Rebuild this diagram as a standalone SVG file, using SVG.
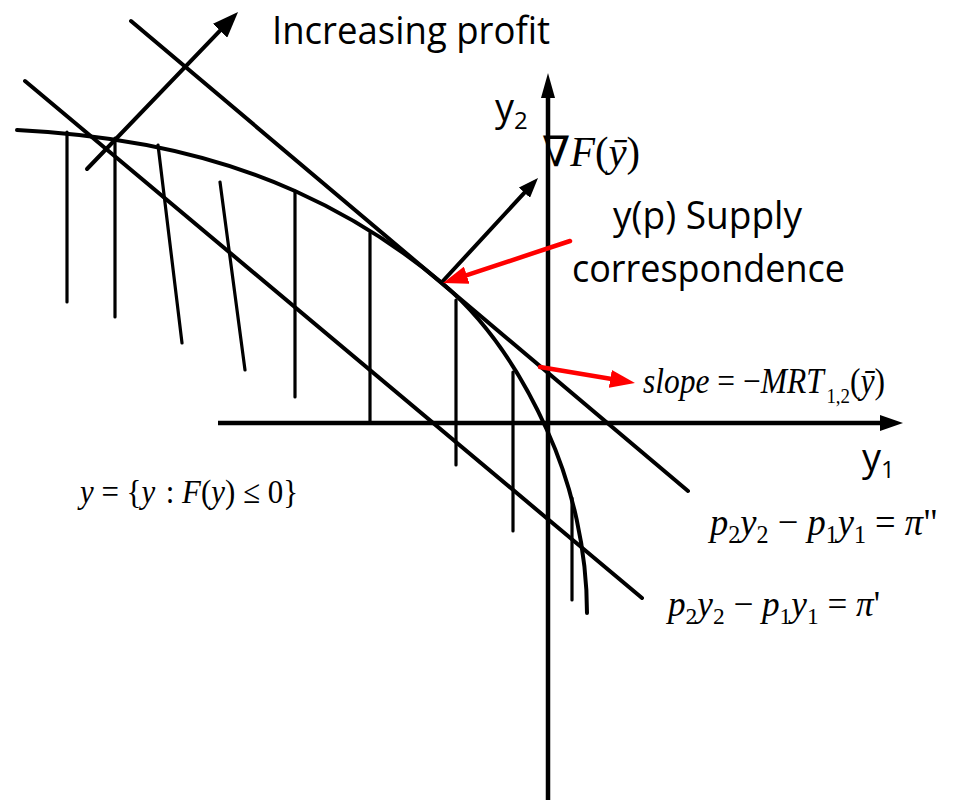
<svg xmlns="http://www.w3.org/2000/svg" width="955" height="800" viewBox="0 0 955 800">
<style>
.ln{stroke:#000;stroke-width:4;fill:none;stroke-linecap:round}
.ax{stroke:#000;stroke-width:4.5;fill:none}
.h{stroke:#000;stroke-width:3.2;fill:none;stroke-linecap:round}
.red{stroke:#ff0000;stroke-width:4.5;fill:none;stroke-linecap:round}
.sans{font-family:"Open Sans","Liberation Sans",sans-serif;fill:#000}
.math{font-family:"Liberation Serif","DejaVu Serif",serif;fill:#000}
.it{font-style:italic}
</style>
<defs>
<marker id="ab" markerUnits="userSpaceOnUse" markerWidth="26" markerHeight="20" refX="16" refY="10" orient="auto"><path d="M0,0 L26,10 L0,20 z" fill="#000"/></marker>
<marker id="ab2" markerUnits="userSpaceOnUse" markerWidth="20" markerHeight="15" refX="12" refY="7.5" orient="auto"><path d="M0,0 L20,7.5 L0,15 z" fill="#000"/></marker>
<marker id="ar" markerUnits="userSpaceOnUse" markerWidth="25" markerHeight="18" refX="15" refY="9" orient="auto"><path d="M0,0 L25,9 L0,18 z" fill="#ff0000"/></marker>
</defs>

<g id="axes">
<line class="ax" x1="548" y1="800" x2="548" y2="96"/>
<polygon points="548,73 541,98 555,98" fill="#000"/>
<line class="ax" x1="218" y1="423" x2="882" y2="423"/>
<polygon points="903,423 880,415 880,431" fill="#000"/>
</g>

<g id="hatching">
<line class="h" x1="67" y1="132" x2="67" y2="302"/>
<line class="h" x1="115" y1="138" x2="115" y2="317"/>
<line class="h" x1="158" y1="145" x2="182" y2="343"/>
<line class="h" x1="220" y1="182" x2="245" y2="370"/>
<line class="h" x1="295" y1="191" x2="295" y2="397"/>
<line class="h" x1="370" y1="233" x2="370" y2="423"/>
<line class="h" x1="456" y1="300" x2="456" y2="465"/>
<line class="h" x1="513" y1="372" x2="513" y2="531"/>
<line class="h" x1="572" y1="498" x2="572" y2="600"/>
</g>

<g id="frontier">
<path class="ln" stroke-width="4.5" d="M17,130 C112,134.7 208.4,152 295,191 C347.9,214.8 397.6,245.6 442,283 C487.9,321.6 522.2,375.4 547,430 C572.7,486.4 587,551 587,613"/>
</g>

<g id="connectors">
<line id="isoprofit-high" class="ln" x1="131" y1="21" x2="688" y2="491"/>
<line id="isoprofit-low" class="ln" x1="25" y1="81" x2="642" y2="598"/>
<line id="profit-arrow" class="ln" x1="87" y1="169" x2="231.1" y2="19.2" marker-end="url(#ab)"/>
<line id="gradient-arrow" class="ln" x1="442" y1="282" x2="532.6" y2="183.9" marker-end="url(#ab2)"/>
<line id="supply-arrow" class="red" x1="570" y1="241" x2="452.5" y2="279.9" marker-end="url(#ar)"/>
<line id="slope-arrow" class="red" x1="540" y1="367" x2="625.1" y2="381.3" marker-end="url(#ar)"/>
</g>

<g id="label-increasing-profit">
<text class="sans" x="272" y="44" font-size="38" textLength="278" lengthAdjust="spacingAndGlyphs">Increasing profit</text>
</g>
<g id="label-y2">
<text class="sans" x="495" y="121" font-size="38">y<tspan font-size="24" dy="8">2</tspan></text>
</g>
<g id="label-y1">
<text class="sans" x="862" y="471" font-size="38">y<tspan font-size="24" dy="7">1</tspan></text>
</g>
<g id="label-supply">
<text class="sans" x="613" y="229" font-size="38" textLength="189" lengthAdjust="spacingAndGlyphs">y(p) Supply</text>
<text class="sans" x="572" y="282" font-size="38" textLength="273" lengthAdjust="spacingAndGlyphs">correspondence</text>
</g>
<g id="label-gradient">
<text class="math" x="542" y="166" font-size="42" textLength="98" lengthAdjust="spacingAndGlyphs">∇<tspan class="it">F</tspan>(<tspan class="it">ȳ</tspan>)</text>
</g>
<g id="label-slope">
<text class="math" x="643" y="393" font-size="35" textLength="242" lengthAdjust="spacingAndGlyphs"><tspan class="it">slope</tspan> = −<tspan class="it">MRT</tspan><tspan font-size="21" dx="3" dy="10">1,2</tspan><tspan dy="-10">(</tspan><tspan class="it">ȳ</tspan>)</text>
</g>
<g id="label-set">
<text class="math" x="80" y="503" font-size="33" textLength="218" lengthAdjust="spacingAndGlyphs"><tspan class="it">y</tspan> = {<tspan class="it">y</tspan><tspan dx="3"> : </tspan><tspan class="it">F</tspan>(<tspan class="it">y</tspan>) ≤ 0}</text>
</g>
<g id="label-pi2">
<text class="math" x="710" y="535" font-size="38" textLength="228" lengthAdjust="spacingAndGlyphs"><tspan class="it">p</tspan><tspan font-size="25" dy="8">2</tspan><tspan class="it" dy="-8">y</tspan><tspan font-size="25" dy="8">2</tspan><tspan dy="-8"> − </tspan><tspan class="it">p</tspan><tspan font-size="25" dy="8">1</tspan><tspan class="it" dy="-8">y</tspan><tspan font-size="25" dy="8">1</tspan><tspan dy="-8"> = </tspan><tspan class="it">π</tspan>"</text>
</g>
<g id="label-pi1">
<text class="math" x="668" y="616" font-size="36" textLength="212" lengthAdjust="spacingAndGlyphs"><tspan class="it">p</tspan><tspan font-size="24" dy="8">2</tspan><tspan class="it" dy="-8">y</tspan><tspan font-size="24" dy="8">2</tspan><tspan dy="-8"> − </tspan><tspan class="it">p</tspan><tspan font-size="24" dy="8">1</tspan><tspan class="it" dy="-8">y</tspan><tspan font-size="24" dy="8">1</tspan><tspan dy="-8"> = </tspan><tspan class="it">π</tspan>'</text>
</g>
</svg>
